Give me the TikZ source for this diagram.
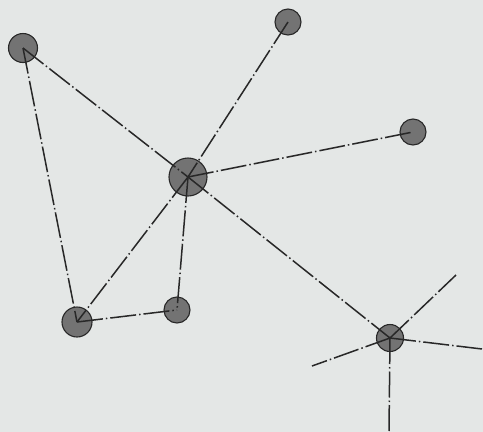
\documentclass[tikz,border=0pt]{standalone}
\definecolor{paper}{RGB}{228,231,230}
\definecolor{ink}{RGB}{40,40,40}
\definecolor{ballfill}{RGB}{115,115,115}
\tikzset{
  ball/.style={circle, draw=ink, line width=1.1pt, fill=ballfill, inner sep=0pt, minimum size=#1},
  link/.style={draw=ink, line width=1.5pt, dash pattern=on 26pt off 3pt on 1.5pt off 3pt},
}
\begin{document}
\begin{tikzpicture}[x=1pt,y=-1pt]
\fill[paper] (0,0) rectangle (483,432);
\useasboundingbox (0,0) rectangle (483,432);
\node[ball=29pt] (A) at (23,48) {};
\node[ball=26pt] (B) at (288,22) {};
\node[ball=38pt] (C) at (188,177) {};
\node[ball=26pt] (D) at (413,132) {};
\node[ball=30pt] (E) at (77,322) {};
\node[ball=26pt] (F) at (177,310) {};
\node[ball=27pt] (G) at (390,338) {};
\coordinate (g1) at (456,275);
\coordinate (g2) at (482,349);
\coordinate (g3) at (389,432);
\coordinate (g4) at (312,366);
\draw[link] (A.center) -- (C.center);
\draw[link] (A.center) -- (E.center);
\draw[link] (B.center) -- (C.center);
\draw[link] (C.center) -- (D.center);
\draw[link] (C.center) -- (E.center);
\draw[link] (C.center) -- (F.center);
\draw[link] (E.center) -- (F.center);
\draw[link] (C.center) -- (G.center);
\draw[link] (G.center) -- (g1);
\draw[link] (G.center) -- (g2);
\draw[link] (G.center) -- (g3);
\draw[link] (G.center) -- (g4);
\end{tikzpicture}
\end{document}
